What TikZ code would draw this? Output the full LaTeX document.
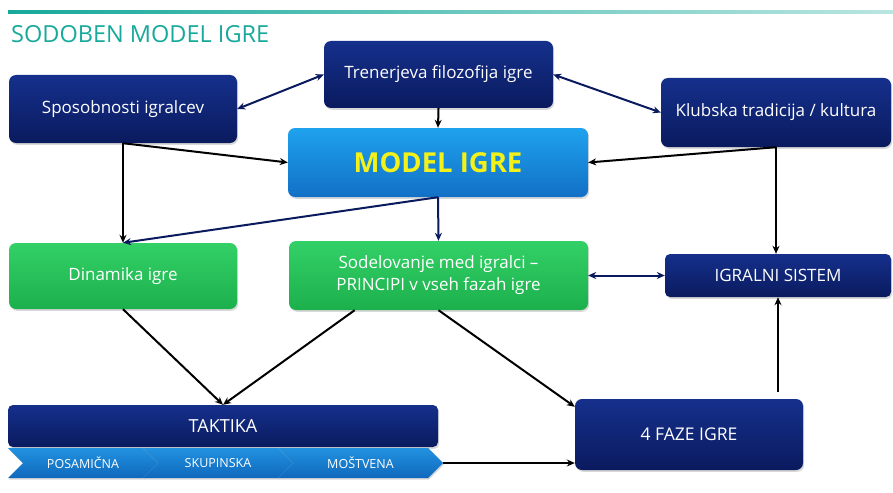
\documentclass[tikz,border=0pt]{standalone}
\usepackage{fontspec}
\setmainfont{Open Sans}
\usetikzlibrary{arrows.meta,shadows,calc,shapes.symbols}
\definecolor{navyA}{HTML}{15308C}
\definecolor{navyB}{HTML}{0A1A5E}
\definecolor{blueA}{HTML}{1FA2EE}
\definecolor{blueB}{HTML}{1270C6}
\definecolor{greenA}{HTML}{33D067}
\definecolor{greenB}{HTML}{1CB04C}
\definecolor{chevA}{HTML}{2292E0}
\definecolor{chevB}{HTML}{0F68BC}
\definecolor{tealT}{HTML}{17A99B}
\definecolor{modelY}{HTML}{F2F21A}
\begin{document}
\begin{tikzpicture}[x=1pt,y=-1pt,
  box/.style={rounded corners=7pt, inner sep=0pt, text=white, align=center,
    font=\fontsize{17}{22}\selectfont,
    drop shadow={opacity=0.3,shadow xshift=1.2pt,shadow yshift=-1.8pt}},
  navybox/.style={box, top color=navyA, bottom color=navyB},
  bluebox/.style={box, top color=blueA, bottom color=blueB},
  greenbox/.style={box, top color=greenA, bottom color=greenB},
  chev/.style={shape=signal, signal to=east, signal from=west, signal pointer angle=90,
    inner sep=0pt, minimum height=30pt, top color=chevA, bottom color=chevB, text=white,
    font=\fontsize{12.5}{14}\selectfont,
    drop shadow={opacity=0.3,shadow xshift=1pt,shadow yshift=-1.5pt}},
  arr/.style={line width=2pt, black, -{Stealth[length=8pt,width=7pt]}},
  narr/.style={line width=2pt, navyB, {Stealth[length=8pt,width=7pt]}-{Stealth[length=8pt,width=7pt]}},
  narrone/.style={line width=2pt, navyB, -{Stealth[length=8pt,width=7pt]}}
]
\useasboundingbox (0,0) rectangle (893,492);
\fill[white] (0,0) rectangle (893,492);
\shade[left color=tealT, right color=tealT!30] (8,10.5) rectangle (893,13.5);
\node[anchor=west, text=tealT, inner sep=0pt, font=\fontsize{23.5}{26}\selectfont] (title) at (11,34) {SODOBEN MODEL IGRE};

\node[navybox, minimum width=228pt, minimum height=68pt] (sp) at (123,109) {Sposobnosti igralcev};
\node[navybox, minimum width=229pt, minimum height=67pt] (tr) at (438.5,74.5) {Trenerjeva filozofija igre};
\node[navybox, minimum width=230pt, minimum height=69pt] (kl) at (776,112.5) {Klubska tradicija / kultura};
\node[bluebox, minimum width=300pt, minimum height=69pt, text=modelY, font=\fontsize{27.5}{30}\selectfont\bfseries] (model) at (438,162.5) {MODEL IGRE};
\node[greenbox, minimum width=228pt, minimum height=66pt] (din) at (123,276) {Dinamika igre};
\node[greenbox, minimum width=299pt, minimum height=69pt] (sod) at (438.5,275.5) {Sodelovanje med igralci --\\PRINCIPI v vseh fazah igre};
\node[navybox, minimum width=226pt, minimum height=43pt, rounded corners=5pt] (igr) at (778,275.5) {IGRALNI SISTEM};
\node[navybox, minimum width=430pt, minimum height=42pt, rounded corners=5pt, font=\fontsize{18}{22}\selectfont] (tak) at (223,426) {TAKTIKA};
\node[navybox, minimum width=228pt, minimum height=71pt, font=\fontsize{17.5}{22}\selectfont] (faze) at (689,434.5) {4 FAZE IGRE};

\node[chev, minimum width=150pt] (ch1) at (83,463) {POSAMIČNA};
\node[chev, minimum width=150pt] (ch2) at (218,463) {SKUPINSKA};
\node[chev, minimum width=165pt] (ch3) at (360.5,463) {MOŠTVENA};

% connectors
\draw[narr] (sp.east) -- (tr.west);
\draw[narr] (tr.east) -- (kl.west);
\draw[arr] (tr.south) -- (model.north);
\draw[arr] (sp.south) -- (model.west);
\draw[arr] (sp.south) -- (din.north);
\draw[arr] (kl.south) -- (model.east);
\draw[arr] (kl.south) -- (kl.south |- igr.north);
\draw[narrone] (model.south) -- (din.north);
\draw[narrone] (model.south) -- (sod.north);
\draw[narr] (sod.east) -- (igr.west);
\draw[arr] (din.south) -- (tak.north);
\draw[arr] ($(sod.south west)!0.22!(sod.south east)$) -- (tak.north);
\draw[arr] (sod.south) -- ([yshift=-8pt]faze.north west);
\draw[arr] (ch3.east) -- (ch3.east -| faze.west);
\coordinate (fzup) at ([yshift=7pt]faze.north -| igr.south);
\draw[arr] (fzup) -- (igr.south);
\end{tikzpicture}
\end{document}
